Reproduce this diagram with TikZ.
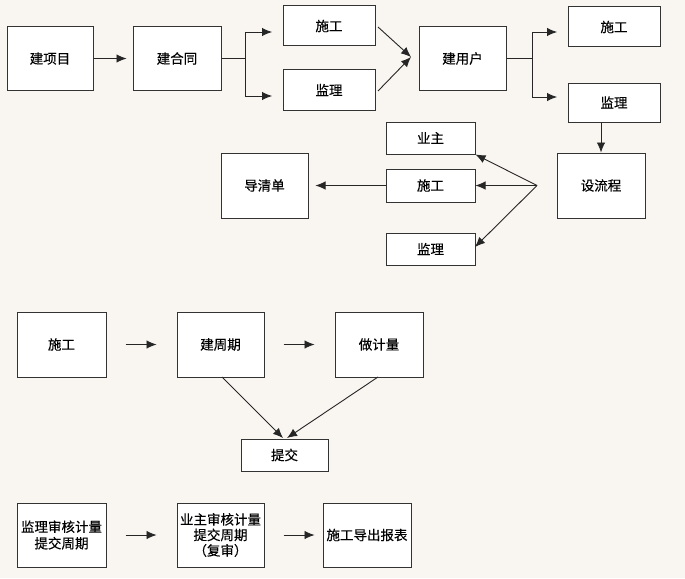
\documentclass[tikz,border=0pt]{standalone}
\usepackage{fontspec}
\newfontfamily\cjk{Noto Sans CJK SC}[FakeBold=0.3]
\usetikzlibrary{arrows.meta,calc}
\begin{document}
\begin{tikzpicture}[x=1pt,y=-1pt,
  box/.style={draw=black!80,line width=1pt,fill=white,inner sep=0pt,align=center,
    font=\cjk\fontsize{13.5}{15.5}\selectfont},
  conn/.style={draw=black!85,line width=0.9pt},
  arr/.style={conn,-{Latex[length=10pt,width=8.5pt]}}]
\fill[fill={rgb,255:red,249;green,246;blue,241}] (0,0) rectangle (685,578);
\useasboundingbox (0,0) rectangle (685,578);
% top row
\node[box,minimum width=86pt,minimum height=63pt] (p1) at (50,58.5) {建项目};
\node[box,minimum width=88pt,minimum height=63pt] (p2) at (177,58.5) {建合同};
\node[box,minimum width=92pt,minimum height=40pt] (sg1) at (329,26) {施工};
\node[box,minimum width=92pt,minimum height=40pt] (jl1) at (329,90) {监理};
\node[box,minimum width=87pt,minimum height=63pt] (yh) at (462.5,58.5) {建用户};
\node[box,minimum width=92pt,minimum height=40pt] (sg2) at (614,27) {施工};
\node[box,minimum width=92pt,minimum height=39pt] (jl2) at (614,102.5) {监理};
\node[box,minimum width=88pt,minimum height=65pt] (lc) at (601,185.5) {设流程};
\node[box,minimum width=89pt,minimum height=32pt] (yz) at (430.5,138) {业主};
\node[box,minimum width=89pt,minimum height=33pt] (sg3) at (430.5,185.5) {施工};
\node[box,minimum width=89pt,minimum height=32pt] (jl3) at (430.5,249) {监理};
\node[box,minimum width=87pt,minimum height=65pt] (dq) at (264.5,185.5) {导清单};
% middle row
\node[box,minimum width=89pt,minimum height=65pt] (b1) at (61.5,344.5) {施工};
\node[box,minimum width=87pt,minimum height=65pt] (b2) at (220.5,344.5) {建周期};
\node[box,minimum width=88pt,minimum height=65pt] (b3) at (379,344.5) {做计量};
\node[box,minimum width=87pt,minimum height=32pt] (tj) at (284.5,455) {提交};
% bottom row
\node[box,minimum width=89pt,minimum height=64pt] (c1) at (61.5,535) {监理审核计量\\[1pt]提交周期};
\node[box,minimum width=87pt,minimum height=64pt] (c2) at (220.5,535) {业主审核计量\\提交周期\\（复审）};
\node[box,minimum width=88pt,minimum height=64pt] (c3) at (367,535) {施工导出报表};
% coordinates
\coordinate (f1) at (245,58.5);
\coordinate (f1a) at (245,32);
\coordinate (f1b) at (245,96);
\coordinate (t1a) at (272,32);
\coordinate (t1b) at (272,96);
\coordinate (s1) at (378,27);
\coordinate (s2) at (378,91);
\coordinate (m1) at (411,57);
\coordinate (f2) at (532,58.5);
\coordinate (f2a) at (532,32);
\coordinate (f2b) at (532,97);
\coordinate (t2a) at (557,32);
\coordinate (t2b) at (557,97);
\coordinate (sp) at (537,185.5);
\coordinate (e3) at (475,247);
\coordinate (q1) at (222,377);
\coordinate (q2) at (378,377);
\coordinate (r1) at (283,438);
\coordinate (r2) at (287,438);
% connectors
\draw[arr,shorten >=6pt] (p1.east) -- (p2.west);
\draw[conn] (p2.east) -- (f1);
\draw[conn] (f1a) -- (f1b);
\draw[arr] (f1a) -- (t1a);
\draw[arr] (f1b) -- (t1b);
\draw[arr] (s1) -- (m1);
\draw[arr] (s2) -- (m1);
\draw[conn] (yh.east) -- (f2);
\draw[conn] (f2a) -- (f2b);
\draw[arr] (f2a) -- (t2a);
\draw[arr] (f2b) -- (t2b);
\draw[arr] (lc.north |- jl2.south) -- (lc.north);
\draw[arr] (sp) -- (yz.south east);
\draw[arr] (sp) -- (sg3.east);
\draw[arr] (sp) -- (e3);
\draw[arr,shorten >=7pt] (sg3.west) -- (dq.east);
\draw[arr,shorten <=19pt,shorten >=20pt] (b1.east) -- (b2.west);
\draw[arr,shorten <=19pt,shorten >=20pt] (b2.east) -- (b3.west);
\draw[arr] (q1) -- (r1);
\draw[arr] (q2) -- (r2);
\draw[arr,shorten <=19pt,shorten >=20pt] (c1.east) -- (c2.west);
\draw[arr,shorten <=19pt,shorten >=8pt] (c2.east) -- (c3.west);
\end{tikzpicture}
\end{document}
